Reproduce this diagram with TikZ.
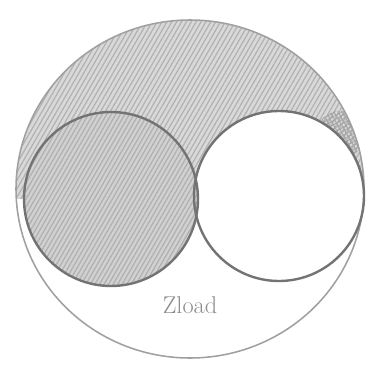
\documentclass[tikz,border=0pt]{standalone}
\usepackage{tikz}
\usetikzlibrary{patterns.meta}
\definecolor{pencil}{RGB}{115,115,115}
\definecolor{pencilsoft}{RGB}{160,160,160}
\tikzset{
    % pencil outlines
    rim/.style={draw=pencil, line width=1.7pt},
    softrim/.style={draw=pencilsoft, line width=1.1pt},
    % hatched regions
    hatched/.style={fill=gray!30,
        postaction={pattern={Lines[angle=60,distance=3pt,line width=0.9pt]},
                    pattern color=gray!60}},
    darkhatched/.style={fill=gray!36,
        postaction={pattern={Lines[angle=60,distance=2.8pt,line width=0.9pt]},
                    pattern color=gray!62}},
    crosshatched/.style={pattern={Hatch[angle=30,distance=2.5pt,line width=0.7pt]},
                    pattern color=gray!70},
    blank/.style={fill=white},
    loadlabel/.style={font=\LARGE, text=gray!90, inner sep=0pt},
}
\begin{document}
\begin{tikzpicture}[x=0.025cm,y=-0.025cm]
  \useasboundingbox (0,0) rectangle (377,370);
  % outer disc, upper part hatched
  \begin{scope}
    \clip (190,189) ellipse [x radius=174, y radius=169];
    \path[hatched] (190,189) ellipse [x radius=174, y radius=169];
    \path[crosshatched] (340,135) circle [radius=24];
    \path[blank] (0,199) rectangle (377,370);
  \end{scope}
  % right disc left blank, left disc shaded
  \path[blank] (279,196) circle [radius=85];
  \path[darkhatched] (111,199) circle [radius=87];
  % outlines
  \draw[softrim] (190,189) ellipse [x radius=174, y radius=169];
  \draw[rim] (111,199) circle [radius=87];
  \draw[rim] (279,196) circle [radius=85];
  \node[loadlabel] (zload) at (190,305) {Zload};
\end{tikzpicture}
\end{document}
